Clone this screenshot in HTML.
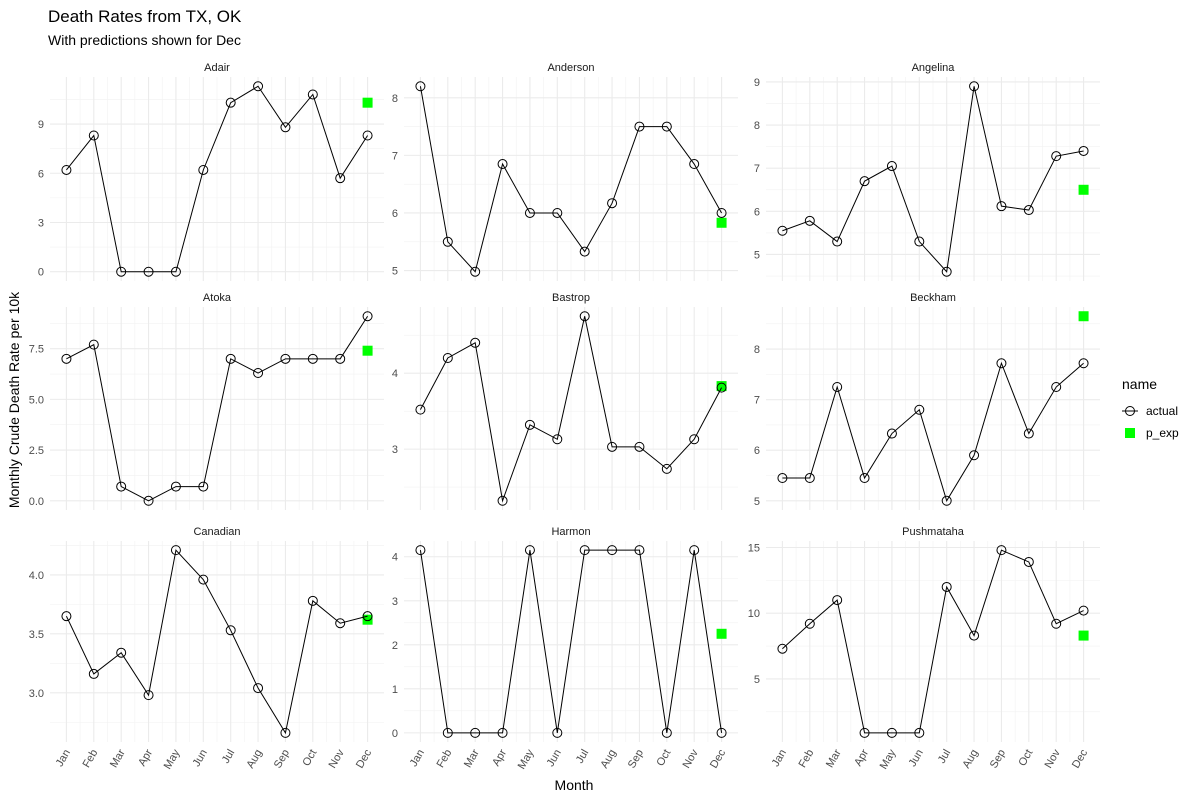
<!DOCTYPE html>
<html><head><meta charset="utf-8">
<style>
body{margin:0;background:#fff;}
svg{display:block;font-family:"Liberation Sans",sans-serif;}
</style></head>
<body>
<svg id="chart" width="1200" height="800" viewBox="0 0 1200 800" xmlns="http://www.w3.org/2000/svg">
<text x="48" y="22" font-size="17" fill="#000">Death Rates from TX, OK</text>
<text x="48" y="45" font-size="14" fill="#000">With predictions shown for Dec</text>
<text transform="translate(19,400) rotate(-90)" text-anchor="middle" font-size="14" fill="#000">Monthly Crude Death Rate per 10k</text>
<text x="574" y="790" text-anchor="middle" font-size="14" fill="#000">Month</text>
<g>
<text x="1122" y="389" font-size="14" fill="#000">name</text>
<g>
<line x1="1122" y1="411" x2="1138" y2="411" stroke="#000" stroke-width="1"/>
<circle cx="1130" cy="411" r="4.5" fill="none" stroke="#000" stroke-width="1"/>
<text x="1146" y="415" font-size="12" fill="#000">actual</text></g>
<g>
<rect x="1125" y="428" width="10" height="10" fill="#00ff00"/>
<text x="1146" y="437" font-size="12" fill="#000">p_exp</text></g>
</g>
<g id="panels"></g>
</svg>
<script>
const months = ["Jan","Feb","Mar","Apr","May","Jun","Jul","Aug","Sep","Oct","Nov","Dec"];
const panelNames = ["Adair","Anderson","Angelina","Atoka","Bastrop","Beckham","Canadian","Harmon","Pushmataha"];
const adairActual = [6.2,8.3,0,0,0,6.2,10.3,11.3,8.8,10.8,5.7,8.3];
const andersonActual = [8.2,5.5,4.98,6.85,6.0,6.0,5.33,6.17,7.5,7.5,6.85,6.0];
const angelinaActual = [5.55,5.78,5.3,6.7,7.05,5.3,4.6,8.9,6.12,6.03,7.28,7.4];
const atokaActual = [7.0,7.7,0.7,0,0.7,0.7,7.0,6.3,7.0,7.0,7.0,9.1];
const bastropActual = [3.52,4.2,4.4,2.32,3.32,3.13,4.75,3.03,3.03,2.74,3.13,3.81];
const beckhamActual = [5.45,5.45,7.25,5.45,6.33,6.8,5.0,5.9,7.72,6.33,7.25,7.72];
const canadianActual = [3.65,3.16,3.34,2.98,4.21,3.96,3.53,3.04,2.66,3.78,3.59,3.65];
const harmonActual = [4.15,0,0,0,4.15,0,4.15,4.15,4.15,0,4.15,0];
const pushmatahaActual = [7.3,9.2,11.0,0.9,0.9,0.9,12.0,8.3,14.8,13.9,9.2,10.2];
const predictions = [10.3,5.83,6.5,7.4,3.83,8.65,3.62,2.25,8.3];
const adairTicks = [0,3,6,9];
const andersonTicks = [5,6,7,8];
const angelinaTicks = [5,6,7,8,9];
const atokaTicks = [0,2.5,5,7.5];
const bastropTicks = [3,4];
const beckhamTicks = [5,6,7,8];
const canadianTicks = [3,3.5,4];
const harmonTicks = [0,1,2,3,4];
const pushmatahaTicks = [5,10,15];
const actuals = [adairActual,andersonActual,angelinaActual,atokaActual,bastropActual,beckhamActual,canadianActual,harmonActual,pushmatahaActual];
const ticks = [adairTicks,andersonTicks,angelinaTicks,atokaTicks,bastropTicks,beckhamTicks,canadianTicks,harmonTicks,pushmatahaTicks];
const tickFmt = [0,0,0,1,0,0,1,0,0];

const colX = [50, 404, 766];
const panelW = 334;
const rowY = [[77,281],[307,510],[541,742]];
const NS = "http://www.w3.org/2000/svg";
const root = document.getElementById("panels");
function mk(tag, attrs, parent){const e=document.createElementNS(NS,tag);for(const k in attrs)e.setAttribute(k,attrs[k]);parent.appendChild(e);return e;}

panelNames.forEach((name,i)=>{
  const col=i%3,row=Math.floor(i/3);
  const x0=colX[col],x1=x0+panelW,y0=rowY[row][0],y1=rowY[row][1];
  const data=actuals[i], pred=predictions[i];
  let lo=Math.min(...data,pred),hi=Math.max(...data,pred);
  const pad=(hi-lo)*0.05; lo-=pad; hi+=pad;
  const ys=v=>y1-(v-lo)/(hi-lo)*(y1-y0);
  const unit=panelW/12.2;
  const xs=j=>x0+unit*(0.6+j);
  const g=mk("g",{},root);
  
  
  const t=ticks[i]; const step=t.length>1?t[1]-t[0]:1;
  // minor grid
  const minors=[];
  for(let v=t[0]-step/2;v<=hi;v+=step) if(v>=lo) minors.push(v);
  minors.forEach(v=>mk("line",{x1:x0,x2:x1,y1:ys(v),y2:ys(v),stroke:"#f2f2f2","stroke-width":0.6},g));
  for(let j=0;j<11;j++){const xm=(xs(j)+xs(j+1))/2;mk("line",{x1:xm,x2:xm,y1:y0,y2:y1,stroke:"#f2f2f2","stroke-width":0.6},g);}
  // major grid
  t.forEach(v=>{mk("line",{x1:x0,x2:x1,y1:ys(v),y2:ys(v),stroke:"#ebebeb","stroke-width":1.1},g);
    const lb=mk("text",{x:x0-6,y:ys(v)+4,"text-anchor":"end","font-size":11,fill:"#4d4d4d"},g);
    lb.textContent=tickFmt[i]?v.toFixed(1):String(v);
    
    });
  months.forEach((m,j)=>{mk("line",{x1:xs(j),x2:xs(j),y1:y0,y2:y1,stroke:"#ebebeb","stroke-width":1.1},g);});
  if(row===2){months.forEach((m,j)=>{
    const lb=mk("text",{transform:`translate(${xs(j)+4},${y1+10}) rotate(-60)`,"text-anchor":"end","font-size":11,fill:"#4d4d4d"},g);
    lb.textContent=m;
    
    });}
  const st=mk("text",{x:(x0+x1)/2,y:y0-6,"text-anchor":"middle","font-size":11,fill:"#1a1a1a"},g);
  st.textContent=name;
  
  
  const sq=mk("rect",{x:xs(11)-5,y:ys(pred)-5,width:10,height:10,fill:"#00ff00"},g);
  
  
  const ln=mk("polyline",{points:data.map((v,j)=>xs(j)+","+ys(v)).join(" "),fill:"none",stroke:"#000","stroke-width":1},g);
  
  
  data.forEach((v,j)=>{const c=mk("circle",{cx:xs(j),cy:ys(v),r:4.5,fill:"none",stroke:"#000","stroke-width":1},g);
    
    });
});
</script>
</body></html>
